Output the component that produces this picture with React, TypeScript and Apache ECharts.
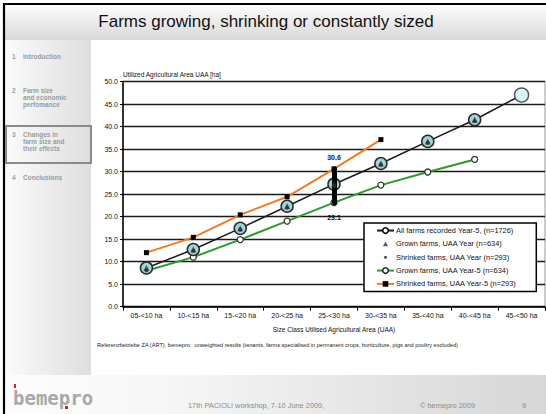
import React, { useEffect, useRef } from "react";
import * as echarts from "echarts";

const categories = ["05-<10 ha", "10-<15 ha", "15-<20 ha", "20-<25 ha", "25-<30 ha", "30-<35 ha", "35-<40 ha", "40-<45 ha", "45-<50 ha"];
const allFarmsYearMinus5 = [8.6, 12.7, 17.4, 22.3, 27.2, 31.8, 36.7, 41.5, 47.0];
const grownFarmsYear = [8.6, 12.7, 17.4, 22.3, 27.2, 31.8, 36.7, 41.5, null];
const shrinkedFarmsYear = [8.1, 12.4, 17.1, 22.0, 26.9, 31.5, 36.4, 41.2, null];
const grownFarmsYearMinus5 = [8.0, 11.0, 14.9, 19.0, 23.1, 27.0, 29.9, 32.7, null];
const shrinkedFarmsYearMinus5 = [12.0, 15.4, 20.4, 24.4, 30.6, 37.1, null, null, null];
const seriesNames = [
  "All farms recorded Year-5, (n=1726)",
  "Grown farms, UAA Year (n=634)",
  "Shrinked farms, UAA Year (n=293)",
  "Grown farms, UAA Year-5 (n=634)",
  "Shrinked farms, UAA Year-5 (n=293)",
];
const yTicks = { min: 0, max: 50, interval: 5 };
const rangeCategory = "25-<30 ha";
const rangeLow = 23.1;
const rangeHigh = 30.6;
const menuItems = [
  { num: "1", lines: ["Introduction"] },
  { num: "2", lines: ["Farm size", "and economic", "perfomance"] },
  { num: "3", lines: ["Changes in", "farm size and", "their effects"] },
  { num: "4", lines: ["Conclusions"] },
];
const titleText = "Farms growing, shrinking or constantly sized";
const noteText =
  "Referenzbetriebe ZA (ART), bemepro;  unweighted results (tenants, farms specialised in permanent crops, horticulture, pigs and poultry excluded)";
const footerText = "17th PACIOLI workshop, 7-10 June 2009,";
const copyrightText = "© bemepro 2009";
const pageNumber = "9";

const FONT = "'Liberation Sans', Arial, sans-serif";

export default function App() {
  const ref = useRef<HTMLDivElement>(null);
  useEffect(() => {
    if (!ref.current) return;
    const chart = echarts.init(ref.current, null, { renderer: "svg" });

    const menuY = [56, 90, 134, 177];
    const menuGraphics: any[] = [];
    menuItems.forEach((m, i) => {
      menuGraphics.push({
        type: "text",
        x: 12,
        y: menuY[i],
        style: { text: m.num, fontSize: 6.5, fontWeight: "bold", fill: "#9c9c9c", fontFamily: FONT, verticalAlign: "middle" },
      });
      m.lines.forEach((l, j) => {
        menuGraphics.push({
          type: "text",
          x: 23,
          y: menuY[i] + j * 7,
          style: { text: l, fontSize: 6.5, fontWeight: "bold", fill: "#9c9c9c", fontFamily: FONT, verticalAlign: "middle" },
        });
      });
    });

    const option: any = {
      animation: false,
      backgroundColor: "#ffffff",
      textStyle: { fontFamily: FONT },
      graphic: [
        {
          type: "rect",
          z: -10,
          shape: { x: 4, y: 4, width: 542, height: 36 },
          style: {
            fill: new echarts.graphic.LinearGradient(0, 0, 0, 1, [
              { offset: 0, color: "#fefefe" },
              { offset: 1, color: "#d8d8d8" },
            ]),
          },
        },
        {
          type: "rect",
          z: -10,
          shape: { x: 4, y: 40, width: 87, height: 335 },
          style: {
            fill: new echarts.graphic.LinearGradient(0, 0, 1, 0, [
              { offset: 0, color: "#fbfbfb" },
              { offset: 1, color: "#dedede" },
            ]),
          },
        },
        {
          type: "rect",
          z: -10,
          shape: { x: 4, y: 375, width: 542, height: 39 },
          style: {
            fill: new echarts.graphic.LinearGradient(0, 0, 1, 0, [
              { offset: 0, color: "#fdfdfd" },
              { offset: 0.3, color: "#f6f6f6" },
              { offset: 1, color: "#d6d6d6" },
            ]),
          },
        },
        { type: "line", z: -5, shape: { x1: 4, y1: 3, x2: 4, y2: 414 }, style: { stroke: "#000", lineWidth: 2.2 } },
        { type: "line", z: -5, shape: { x1: 3, y1: 4, x2: 546, y2: 4 }, style: { stroke: "#000", lineWidth: 2.2 } },
        {
          type: "text",
          z: 5,
          x: 266,
          y: 21,
          style: { text: titleText, fontSize: 17, fill: "#111", fontFamily: FONT, align: "center", verticalAlign: "middle" },
        },
        {
          type: "rect",
          z: 5,
          shape: { x: 6, y: 126, width: 85, height: 37 },
          style: { fill: "none", stroke: "#8a8a8a", lineWidth: 2 },
        },
        ...menuGraphics,
        {
          type: "text",
          z: 5,
          x: 97,
          y: 345,
          style: { text: noteText, fontSize: 5.6, fill: "#222", fontFamily: FONT, verticalAlign: "middle" },
        },
        {
          type: "text",
          z: 5,
          x: 188,
          y: 405,
          style: { text: footerText, fontSize: 7.4, fill: "#8a8a8a", fontFamily: FONT, verticalAlign: "middle" },
        },
        {
          type: "text",
          z: 5,
          x: 420,
          y: 405,
          style: { text: copyrightText, fontSize: 7.4, fill: "#8a8a8a", fontFamily: FONT, verticalAlign: "middle" },
        },
        {
          type: "text",
          z: 5,
          x: 522,
          y: 405,
          style: { text: pageNumber, fontSize: 7.4, fill: "#8a8a8a", fontFamily: FONT, verticalAlign: "middle" },
        },
        {
          type: "text",
          z: 5,
          x: 13,
          y: 398,
          style: { text: "bemepro", fontSize: 19, fontWeight: "bold", fill: "#a8a8a8", fontFamily: "'DejaVu Sans Mono', monospace", verticalAlign: "middle" },
        },
        { type: "rect", z: 6, shape: { x: 14, y: 384, width: 2, height: 4 }, style: { fill: "#c0282d" } },
        { type: "rect", z: 6, shape: { x: 65, y: 406, width: 3, height: 3 }, style: { fill: "#c0282d" } },
      ],
      grid: { left: 123, right: 1, top: 81.5, bottom: 107.3, containLabel: false, show: true, borderColor: "#999", borderWidth: 1, backgroundColor: "#fff" },
      legend: {
        orient: "vertical",
        left: 364,
        top: 223,
        backgroundColor: "#fff",
        borderColor: "#000",
        borderWidth: 1.5,
        borderRadius: 0,
        padding: [4, 20, 4, 12],
        itemGap: 6.3,
        itemWidth: 17,
        itemHeight: 7,
        textStyle: { fontSize: 7.4, color: "#111", fontFamily: FONT, padding: [0, 0, 0, -3] },
        data: [
          { name: seriesNames[0], itemStyle: { color: "#fff", borderColor: "#000", borderWidth: 1.5 } },
          { name: seriesNames[1], icon: "path://M0 0M10 10M5 1.5L8.8 8.5L1.2 8.5Z", itemStyle: { color: "#333" } },
          { name: seriesNames[2], icon: "path://M0 0M10 10M2.8 5A2.2 2.2 0 1 0 7.2 5A2.2 2.2 0 1 0 2.8 5Z", itemStyle: { color: "#222" } },
          { name: seriesNames[3], itemStyle: { color: "#fff", borderColor: "#222", borderWidth: 1.5 } },
          { name: seriesNames[4], itemStyle: { color: "#000" } },
        ],
      },
      xAxis: {
        type: "category",
        data: categories,
        boundaryGap: true,
        name: "Size Class Utilised Agricultural Area (UAA)",
        nameLocation: "middle",
        nameGap: 19,
        nameTextStyle: { fontSize: 6.5, color: "#111", fontFamily: FONT },
        axisLine: { lineStyle: { color: "#000", width: 1.5 } },
        axisTick: { show: true, length: 4, lineStyle: { color: "#000", width: 1 } },
        axisLabel: { fontSize: 7, color: "#111", margin: 5, interval: 0, fontFamily: FONT },
        splitLine: { show: false },
      },
      yAxis: {
        type: "value",
        min: yTicks.min,
        max: yTicks.max,
        interval: yTicks.interval,
        name: "Utilized Agricultural Area UAA [ha]",
        nameLocation: "end",
        nameGap: 3,
        nameTextStyle: { fontSize: 6.5, color: "#111", align: "left", fontFamily: FONT },
        axisLine: { show: true, lineStyle: { color: "#000", width: 1.5 } },
        axisTick: { show: true, length: 3, lineStyle: { color: "#000" } },
        axisLabel: { fontSize: 7, color: "#111", margin: 5, formatter: (v: number) => v.toFixed(1), fontFamily: FONT },
        splitLine: { show: true, lineStyle: { color: "#1a1a1a", width: 1.3 } },
      },
      series: [
        {
          name: seriesNames[0],
          type: "line",
          z: 4,
          data: allFarmsYearMinus5.map((v, i) =>
            i === allFarmsYearMinus5.length - 1
              ? { value: v, symbolSize: 14, itemStyle: { color: "#d6f7f7", borderColor: "#555", borderWidth: 1.5 } }
              : v
          ),
          symbol: "circle",
          symbolSize: 12,
          showAllSymbol: true,
          lineStyle: { color: "#1a1a1a", width: 1.5 },
          itemStyle: { color: "#a2d6d6", borderColor: "#2a2a2a", borderWidth: 1.5 },
        },
        {
          name: seriesNames[2],
          type: "scatter",
          z: 5,
          data: shrinkedFarmsYear,
          symbol: "circle",
          symbolSize: 4,
          itemStyle: { color: "#222" },
        },
        {
          name: seriesNames[1],
          type: "scatter",
          z: 6,
          data: grownFarmsYear,
          symbol: "triangle",
          symbolSize: 6,
          itemStyle: { color: "#333" },
        },
        {
          name: seriesNames[3],
          type: "line",
          z: 3,
          data: grownFarmsYearMinus5.map((v, i) =>
            categories[i] === rangeCategory
              ? {
                  value: v,
                  label: { show: true, position: "bottom", distance: 8, formatter: (p: any) => p.value.toFixed(1), fontSize: 7, fontWeight: "bold", color: "#111" },
                }
              : v
          ),
          symbol: "circle",
          symbolSize: 6,
          lineStyle: { color: "#2e9a2e", width: 2 },
          itemStyle: { color: "#fff", borderColor: "#333", borderWidth: 1.3 },
          markLine: {
            silent: true,
            symbol: "none",
            label: { show: false },
            lineStyle: { color: "#000", width: 5, type: "solid", cap: "round" },
            data: [[{ coord: [rangeCategory, rangeLow] }, { coord: [rangeCategory, rangeHigh] }]],
          },
        },
        {
          name: seriesNames[4],
          type: "line",
          z: 3,
          data: shrinkedFarmsYearMinus5.map((v, i) =>
            categories[i] === rangeCategory
              ? {
                  value: v,
                  label: {
                    show: true,
                    position: "top",
                    distance: 5,
                    formatter: (p: any) => p.value.toFixed(1),
                    fontSize: 7,
                    fontWeight: "bold",
                    color: "#1c2b66",
                    textBorderColor: "#dfe8ff",
                    textBorderWidth: 1,
                  },
                }
              : v
          ),
          symbol: "rect",
          symbolSize: 5,
          lineStyle: { color: "#f47a20", width: 2 },
          itemStyle: { color: "#000" },
        },
      ],
    };
    chart.setOption(option);
    return () => chart.dispose();
  }, []);
  return <div ref={ref} style={{ position: "absolute", left: 0, top: 0, width: 546, height: 414 }} />;
}
